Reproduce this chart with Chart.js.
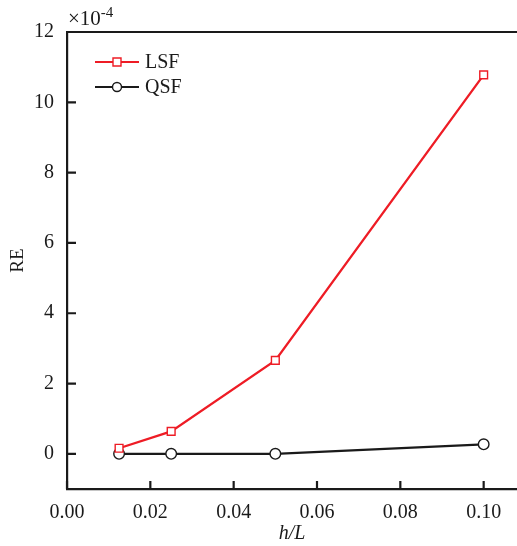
<!DOCTYPE html>
<html>
<head>
<meta charset="utf-8">
<script src="https://cdn.jsdelivr.net/npm/chart.js@4"></script>
<style>
  html, body { margin: 0; padding: 0; background: #fff; }
  #wrap { width: 517px; height: 546px; }
</style>
</head>
<body>
<div id="wrap"><canvas id="chart" width="517" height="546"></canvas></div>
<script>
// step size ratio h/L and relative error (in units of 1e-4)
const hL = [0.0125, 0.025, 0.05, 0.1];
const lsfRE = [0.16, 0.64, 2.66, 10.78];
const qsfRE = [0.0, 0.0, 0.0, 0.27];
const xTicks = [0, 0.02, 0.04, 0.06, 0.08, 0.10];
const yTicks = [0, 2, 4, 6, 8, 10, 12];

const FONT = "'Liberation Serif', 'Times New Roman', serif";
const AXIS = '#1a1a1a';
const RED = '#ee1c25';

// inward tick marks, top frame line, legend box and exponent label
const decorations = {
  id: 'decorations',
  afterDraw(chart) {
    const { ctx, chartArea, scales } = chart;
    ctx.save();
    ctx.strokeStyle = AXIS;
    ctx.lineWidth = 2.2;
    ctx.beginPath();
    ctx.moveTo(chartArea.left - 1, chartArea.top);
    ctx.lineTo(chartArea.right, chartArea.top);
    xTicks.forEach(v => {
      const x = scales.x.getPixelForValue(v);
      ctx.moveTo(x, chartArea.bottom);
      ctx.lineTo(x, chartArea.bottom - 8);
    });
    yTicks.forEach(v => {
      const y = scales.y.getPixelForValue(v);
      ctx.moveTo(chartArea.left, y);
      ctx.lineTo(chartArea.left + 9, y);
    });
    ctx.stroke();

    // legend
    chart.data.datasets.forEach((ds, i) => {
      const y = chartArea.top + 30 + i * 25;
      const x0 = chartArea.left + 28;
      ctx.strokeStyle = ds.borderColor;
      ctx.lineWidth = 2.2;
      ctx.beginPath();
      ctx.moveTo(x0, y);
      ctx.lineTo(x0 + 44, y);
      ctx.stroke();
      ctx.fillStyle = '#fff';
      ctx.lineWidth = 1.4;
      ctx.beginPath();
      if (ds.pointStyle === 'rect') {
        ctx.rect(x0 + 18, y - 4, 8, 8);
      } else {
        ctx.arc(x0 + 22, y, 4.5, 0, Math.PI * 2);
      }
      ctx.fill();
      ctx.stroke();
      ctx.fillStyle = AXIS;
      ctx.font = '20px ' + FONT;
      ctx.textBaseline = 'middle';
      ctx.textAlign = 'left';
      ctx.fillText(ds.label, x0 + 50, y + 1);
    });

    // exponent label
    ctx.fillStyle = AXIS;
    ctx.textBaseline = 'alphabetic';
    ctx.font = '21px ' + FONT;
    ctx.fillText('\u00d710', chartArea.left + 1, chartArea.top - 7);
    const w = ctx.measureText('\u00d710').width;
    ctx.font = '15px ' + FONT;
    ctx.fillText('-4', chartArea.left + 1 + w, chartArea.top - 15);
    ctx.restore();
  }
};

new Chart(document.getElementById('chart'), {
  type: 'line',
  data: {
    datasets: [
      {
        label: 'LSF',
        data: hL.map((x, i) => ({ x, y: lsfRE[i] })),
        borderColor: RED,
        borderWidth: 2.3,
        pointStyle: 'rect',
        pointRadius: 5.5,
        pointBorderWidth: 1.4,
        pointBackgroundColor: '#fff',
        pointBorderColor: RED
      },
      {
        label: 'QSF',
        data: hL.map((x, i) => ({ x, y: qsfRE[i] })),
        borderColor: AXIS,
        borderWidth: 2.3,
        pointStyle: 'circle',
        pointRadius: 5.3,
        pointBorderWidth: 1.4,
        pointBackgroundColor: '#fff',
        pointBorderColor: AXIS
      }
    ]
  },
  options: {
    responsive: false,
    animation: false,
    layout: { autoPadding: false, padding: { left: 0, right: 0, top: 32, bottom: 0 } },
    plugins: { legend: { display: false }, tooltip: { enabled: false } },
    scales: {
      x: {
        type: 'linear',
        min: 0,
        max: 0.108,
        afterFit(scale) {
          scale.height = 57;
          scale.paddingLeft = 0;
          scale.paddingRight = 0;
        },
        afterBuildTicks(scale) { scale.ticks = xTicks.map(v => ({ value: v })); },
        grid: { display: false, drawTicks: false },
        border: { display: true, color: AXIS, width: 2.2 },
        ticks: {
          padding: 12,
          color: AXIS,
          font: { family: FONT, size: 20 },
          maxRotation: 0,
          callback: v => v.toFixed(2)
        },
        title: {
          display: true,
          text: 'h/L',
          color: AXIS,
          padding: { top: 0, bottom: 0 },
          font: { family: FONT, size: 20, style: 'italic' }
        }
      },
      y: {
        min: -1,
        max: 12,
        afterFit(scale) { scale.width = 67; },
        afterBuildTicks(scale) { scale.ticks = yTicks.map(v => ({ value: v })); },
        grid: { display: false, drawTicks: false },
        border: { display: true, color: AXIS, width: 2.2 },
        ticks: {
          padding: 13,
          color: AXIS,
          font: { family: FONT, size: 20 }
        },
        title: {
          display: true,
          text: 'RE',
          color: AXIS,
          padding: { top: 7, bottom: 0 },
          font: { family: FONT, size: 19 }
        }
      }
    }
  },
  plugins: [decorations]
});
</script>
</body>
</html>
